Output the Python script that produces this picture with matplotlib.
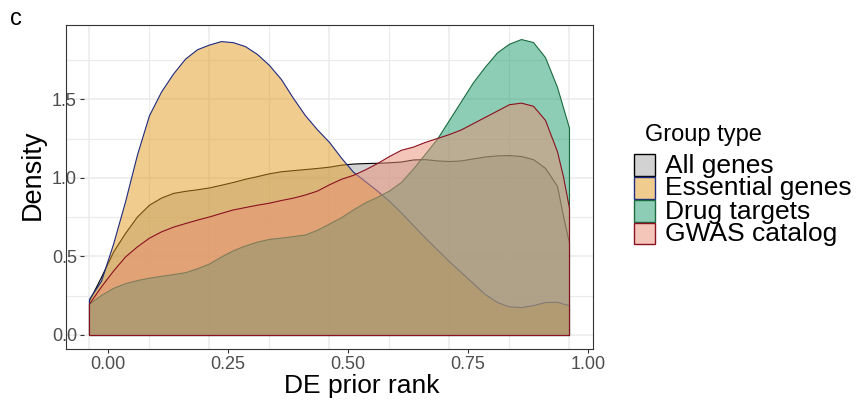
import matplotlib
matplotlib.use("Agg")
import matplotlib.pyplot as plt
from matplotlib.patches import Rectangle
from matplotlib.transforms import ScaledTranslation

plt.rcParams["font.family"] = ["Liberation Sans", "DejaVu Sans"]

# ---------------- data ----------------
rank = [0, 0.025, 0.05, 0.075, 0.1, 0.125, 0.15, 0.175, 0.2, 0.225, 0.25,
        0.275, 0.3, 0.325, 0.35, 0.375, 0.4, 0.425, 0.45, 0.475, 0.5, 0.525,
        0.55, 0.575, 0.6, 0.625, 0.65, 0.675, 0.7, 0.725, 0.75, 0.775, 0.8,
        0.825, 0.85, 0.875, 0.9, 0.925, 0.95, 0.975, 0.9875, 1.0]

all_genes = [0.22, 0.37, 0.53, 0.65, 0.755, 0.83, 0.875, 0.905, 0.918, 0.928,
             0.94, 0.957, 0.975, 0.995, 1.012, 1.03, 1.043, 1.05, 1.057,
             1.064, 1.072, 1.085, 1.092, 1.095, 1.097, 1.10, 1.105, 1.118,
             1.12, 1.112, 1.108, 1.112, 1.125, 1.137, 1.144, 1.146, 1.14,
             1.12, 1.065, 0.95, 0.76, 0.586]

essential_genes = [0.23, 0.345, 0.58, 0.85, 1.15, 1.40, 1.55, 1.665, 1.76,
                   1.82, 1.85, 1.872, 1.865, 1.84, 1.79, 1.72, 1.63, 1.51,
                   1.40, 1.31, 1.23, 1.13, 1.04, 0.98, 0.92, 0.855, 0.78,
                   0.70, 0.62, 0.545, 0.47, 0.40, 0.33, 0.26, 0.21, 0.182,
                   0.178, 0.19, 0.21, 0.212, 0.20, 0.19]

drug_targets = [0.20, 0.255, 0.30, 0.33, 0.35, 0.365, 0.377, 0.388, 0.40,
                0.425, 0.455, 0.50, 0.54, 0.57, 0.595, 0.612, 0.62, 0.63,
                0.64, 0.67, 0.71, 0.75, 0.80, 0.845, 0.88, 0.92, 0.975, 1.06,
                1.155, 1.25, 1.37, 1.49, 1.61, 1.71, 1.80, 1.855, 1.885,
                1.866, 1.77, 1.58, 1.45, 1.32]

gwas_catalog = [0.20, 0.31, 0.41, 0.50, 0.565, 0.62, 0.66, 0.69, 0.713,
                0.735, 0.755, 0.778, 0.80, 0.815, 0.83, 0.843, 0.86, 0.875,
                0.895, 0.92, 0.96, 0.995, 1.02, 1.055, 1.095, 1.14, 1.18,
                1.20, 1.23, 1.255, 1.28, 1.31, 1.35, 1.39, 1.43, 1.47, 1.48,
                1.46, 1.37, 1.17, 1.01, 0.81]

group_names = ["All genes", "Essential genes", "Drug targets", "GWAS catalog"]
group_values = [all_genes, essential_genes, drug_targets, gwas_catalog]

x_ticks = [0.0, 0.25, 0.5, 0.75, 1.0]
x_tick_labels = ["0.00", "0.25", "0.50", "0.75", "1.00"]
y_ticks = [0.0, 0.5, 1.0, 1.5]
y_tick_labels = ["0.0", "0.5", "1.0", "1.5"]

# ---------------- style ----------------
fill_colors = ["#A7A7A7", "#E39D1F", "#1D9D6D", "#E98F75"]
edge_colors = ["#000000", "#1E2A80", "#1A6B40", "#8B1020"]
alpha = 0.5

W, H = 859, 400
fig = plt.figure(figsize=(W / 100, H / 100), dpi=100)
L, R, T, B = 66, 593, 25, 349
ax = fig.add_axes([L / W, 1 - B / H, (R - L) / W, (B - T) / H])

for vals, fc, ec in zip(group_values, fill_colors, edge_colors):
    ax.fill_between(rank, 0, vals, facecolor=matplotlib.colors.to_rgba(fc, alpha),
                    edgecolor=ec, linewidth=0.8, joinstyle="round")

ax.set_xlim(-0.0479, 1.05)
ax.set_ylim(-0.0892, 1.9745)

ax.set_xticks(x_ticks)
ax.set_xticklabels(x_tick_labels)
ax.set_yticks(y_ticks)
ax.set_yticklabels(y_tick_labels)
ax.set_xticks([0.125, 0.375, 0.625, 0.875], minor=True)
ax.set_yticks([0.25, 0.75, 1.25, 1.75], minor=True)
ax.tick_params(which="minor", length=0)
ax.tick_params(which="major", length=2.9, width=0.8, color="#333333",
               labelsize=13, labelcolor="#4D4D4D")
ax.tick_params(axis="x", which="major", pad=1.8)
ax.tick_params(axis="y", which="major", pad=2.2)
ax.grid(True, which="major", color="#EBEBEB", linewidth=1.1)
ax.grid(True, which="minor", color="#EBEBEB", linewidth=0.8)
ax.set_axisbelow(True)
for s in ax.spines.values():
    s.set_color("#333333")
    s.set_linewidth(0.8)

ax.set_xlabel("DE prior rank", fontsize=19, va="baseline")
ax.xaxis.set_label_coords((362 - L) / (R - L), (B - 393) / (B - T))
ax.set_ylabel("Density", fontsize=19.5, va="baseline")
ax.yaxis.set_label_coords((40 - L) / (R - L), (B - 175) / (B - T))

# shift tick marks and tick labels as in the reference
dx = ScaledTranslation(19 / 100, 0, fig.dpi_scale_trans)
dy = ScaledTranslation(18 / 100, 0, fig.dpi_scale_trans)
for t in ax.xaxis.get_major_ticks():
    t.tick1line.set_transform(t.tick1line.get_transform() + dx)
    t.label1.set_transform(t.label1.get_transform() + dx)
for t in ax.yaxis.get_major_ticks():
    t.tick1line.set_transform(t.tick1line.get_transform() + dy)
    t.label1.set_transform(t.label1.get_transform() + dy)

# panel tag
fig.text(10 / W, 1 - 25 / H, "c", fontsize=17, va="baseline", ha="left")

# legend (manual, ggplot style)
fig.text(645 / W, 1 - 140.5 / H, "Group type", fontsize=17, va="baseline", ha="left")
key_top = 154
for i, (name, fc, ec) in enumerate(zip(group_names, fill_colors, edge_colors)):
    top = key_top + 23 * i
    rect = Rectangle((634 / W, 1 - (top + 21.5) / H), 21 / W, 21.5 / H,
                     transform=fig.transFigure,
                     facecolor=matplotlib.colors.to_rgba(fc, alpha),
                     edgecolor=ec, linewidth=1.0)
    fig.patches.append(rect)
    fig.text(665 / W, 1 - (top + 18.5) / H, name, fontsize=19,
             va="baseline", ha="left")

fig.savefig("out.png", dpi=100)
